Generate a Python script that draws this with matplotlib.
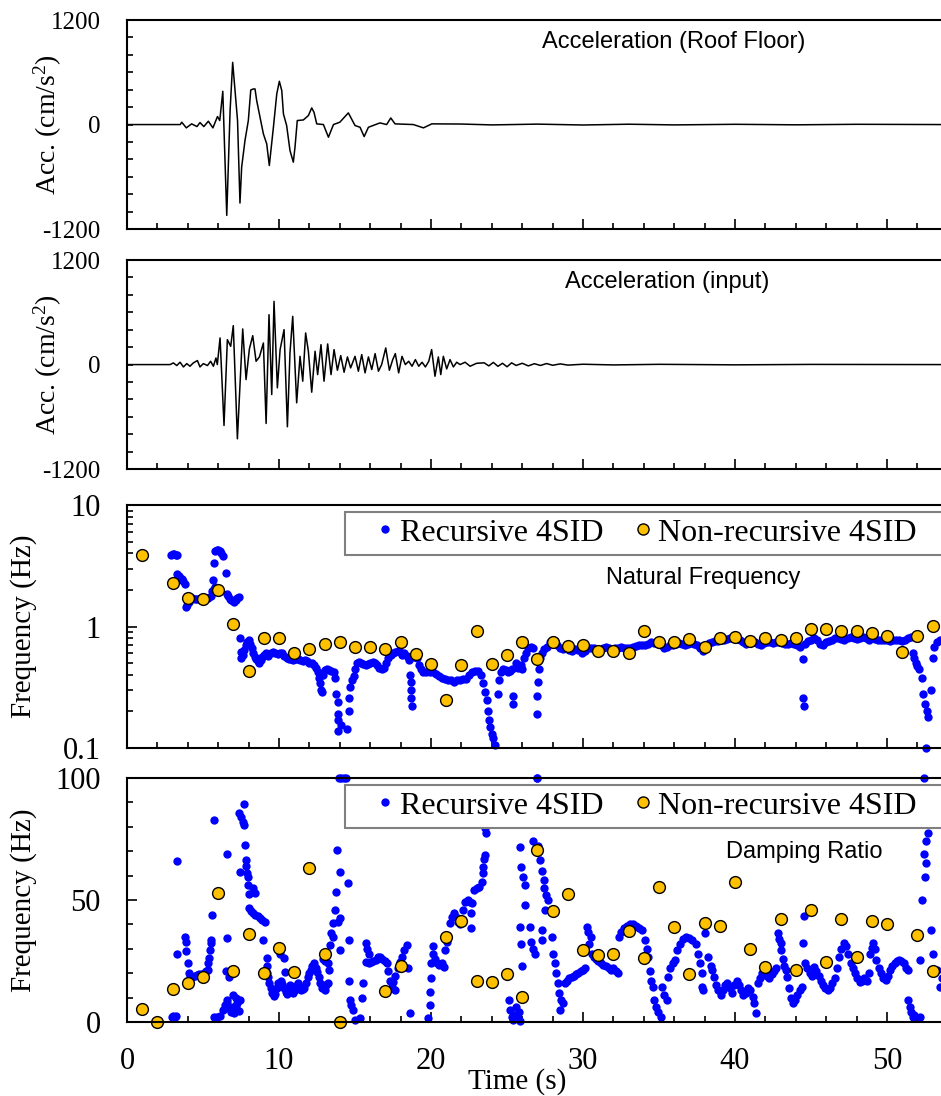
import numpy as np
import matplotlib
matplotlib.use('Agg')
import matplotlib.pyplot as plt
from matplotlib.ticker import MultipleLocator, LogLocator, NullFormatter
from matplotlib.lines import Line2D
from matplotlib.patches import Rectangle

plt.rcParams['font.family'] = ['Liberation Serif', 'DejaVu Serif']
plt.rcParams['mathtext.fontset'] = 'custom'
plt.rcParams['mathtext.rm'] = 'Liberation Serif'
plt.rcParams['mathtext.it'] = 'Liberation Serif:italic'
plt.rcParams['axes.unicode_minus'] = False

roof_acc = np.array([
    (0, 0), (3.5, 0), (3.6, 27), (3.9, -38), (4.25, 8), (4.6, -23), (4.8, 23), (5.05, -23),
    (5.35, 38), (5.65, -38), (5.95, 92), (6.1, 46), (6.3, 382), (6.56, -1043), (6.78, 160),
    (6.95, 714), (7.27, 46), (7.43, -901), (7.54, -490), (7.76, -183), (7.98, 46), (8.14, 397),
    (8.31, 409), (8.42, 409), (8.53, 275), (8.75, 84), (8.97, -107), (9.19, -222), (9.36, -470),
    (9.63, -31), (9.85, 351), (10.02, 497), (10.18, 390), (10.29, 122), (10.5, -11),
    (10.72, -298), (10.94, -432), (11.05, -260), (11.2, 46), (11.6, 53), (11.93, 103),
    (12.15, 191), (12.3, 141), (12.48, 8), (12.92, 0), (13.25, -145), (13.58, 0), (14.0, 27),
    (14.56, 134), (15.0, -11), (15.33, -31), (15.6, -138), (15.88, -31), (16.64, 19),
    (17.08, 0), (17.35, 76), (17.63, 8), (18.84, 0), (19.5, -38), (20.05, 8), (22, 6), (24, -4),
    (27, 5), (30, -5), (33, 4), (36, -4), (40, 3), (44, -3), (48, 3), (53.6, 0),
])

# input (ground) acceleration
input_acc = np.array([
    (0, 0), (2.6, 0), (2.83, 0), (3.05, 19), (3.27, -11), (3.49, 27), (3.71, -27), (3.93, 11),
    (4.14, -19), (4.36, 19), (4.63, 46), (4.8, -27), (5.02, 11), (5.29, -11), (5.5, 38),
    (5.68, -19), (5.85, 76), (5.94, 0), (6.12, 306), (6.38, -699), (6.6, 286), (6.82, 210),
    (6.99, 447), (7.26, -852), (7.61, 409), (7.83, -172), (8.05, 180), (8.27, 332), (8.49, 38),
    (8.71, 88), (8.97, 248), (9.15, -676), (9.34, 573), (9.52, -344), (9.67, 726), (9.89, -267),
    (10.07, 172), (10.33, 401), (10.55, -714), (10.72, 134), (10.9, 554), (11.16, -439),
    (11.38, 95), (11.56, -191), (11.75, 363), (11.93, 153), (12.15, -317), (12.37, 153),
    (12.54, -115), (12.76, 229), (12.96, -191), (13.2, 237), (13.42, -115), (13.62, 172),
    (13.84, -65), (14.06, 103), (14.28, -88), (14.5, 88), (14.71, -38), (15.0, 95), (15.22, -76),
    (15.44, 115), (15.66, -95), (15.88, 88), (16.1, -57), (16.32, 126), (16.54, -76), (16.75, 0),
    (17.02, 191), (17.26, -65), (17.48, 57), (17.65, 126), (17.87, -95), (18.09, 95), (18.31, 0),
    (18.53, 38), (18.75, -19), (18.97, 57), (19.19, -19), (19.41, 27), (19.63, -27), (19.85, 38),
    (20.04, 172), (20.26, -134), (20.48, 88), (20.64, -115), (20.81, 95), (21.03, -50),
    (21.25, 57), (21.47, -27), (21.69, 27), (21.91, 0), (22.24, 27), (22.57, -19), (23.0, 15),
    (23.5, 20), (23.8, -15), (24.1, 25), (24.4, -20), (24.7, 15), (25.0, -25), (25.3, 20),
    (25.6, -10), (26.0, 15), (26.4, -15), (26.8, 10), (27.2, -10), (27.6, 12), (28.0, -8),
    (28.5, 8), (29.0, -6), (30, 4), (32, -4), (35, 3), (40, -3), (45, 2), (53.6, 0),
])

# natural frequency, recursive 4SID (time s, Hz)
rec_freq = np.array([
    (2.9, 3.9), (3.0, 3.95), (3.1, 3.95), (3.2, 3.9), (3.3, 3.9),
    (3.3, 2.7), (3.4, 2.6), (3.5, 2.5), (3.6, 2.45), (3.7, 2.35), (3.8, 2.25),
    (3.85, 1.45), (3.95, 1.5), (4.05, 1.6), (4.15, 1.7), (4.3, 1.72), (4.45, 1.7), (4.6, 1.7),
    (4.75, 1.68), (4.9, 1.7), (5.05, 1.7), (5.2, 1.72), (5.35, 1.72), (5.5, 1.8), (5.6, 1.95),
    (5.7, 2.05), (5.8, 2.1), (5.63, 2.42), (5.72, 3.36),
    (5.8, 4.2), (5.9, 4.3), (6.0, 4.3), (6.1, 4.2), (6.2, 4.0), (6.3, 3.8), (6.52, 2.78),
    (6.55, 1.85), (6.65, 1.8), (6.75, 1.7), (6.85, 1.65), (6.95, 1.62), (7.05, 1.6), (7.15, 1.65),
    (7.25, 1.72), (7.35, 1.75),
    (7.4, 0.8), (7.47, 0.62), (7.5, 0.55), (7.6, 0.58), (7.7, 0.64), (7.8, 0.7), (7.9, 0.75),
    (8.0, 0.78), (8.1, 0.72), (8.2, 0.66), (8.3, 0.6), (8.4, 0.56), (8.5, 0.54), (8.6, 0.52),
    (8.7, 0.5), (8.8, 0.53), (8.9, 0.56), (9.0, 0.58), (9.15, 0.6), (9.3, 0.57), (9.45, 0.6),
    (9.6, 0.62), (9.75, 0.6), (9.9, 0.59), (10.05, 0.61), (10.2, 0.6), (10.35, 0.57),
    (10.5, 0.55), (10.65, 0.54), (10.8, 0.54), (10.95, 0.53), (11.1, 0.54), (11.25, 0.54),
    (11.4, 0.53), (11.55, 0.52), (11.7, 0.53), (11.85, 0.52), (12.0, 0.5), (12.15, 0.5),
    (12.3, 0.48), (12.45, 0.46), (12.55, 0.42), (12.65, 0.38), (12.7, 0.34), (12.75, 0.3),
    (12.8, 0.29), (12.9, 0.4), (13.0, 0.44), (13.15, 0.45), (13.3, 0.44), (13.45, 0.43),
    (13.6, 0.42), (13.7, 0.38), (13.75, 0.28), (13.85, 0.24), (13.9, 0.19), (13.85, 0.17),
    (13.85, 0.137), (14.07, 0.155), (14.5, 0.143), (14.57, 0.2), (14.62, 0.26), (14.7, 0.32),
    (14.8, 0.36), (14.9, 0.39), (15.0, 0.45), (15.1, 0.5), (15.25, 0.51), (15.4, 0.5),
    (15.55, 0.49), (15.7, 0.48), (15.85, 0.49), (16.0, 0.5), (16.15, 0.51), (16.3, 0.5),
    (16.45, 0.48), (16.6, 0.46), (16.75, 0.45), (16.9, 0.46), (17.05, 0.5), (17.2, 0.55),
    (17.35, 0.58), (17.5, 0.6), (17.65, 0.62), (17.8, 0.63), (17.95, 0.62), (18.1, 0.58),
    (18.25, 0.6), (18.4, 0.57), (18.55, 0.53), (18.6, 0.4), (18.65, 0.35), (18.7, 0.3),
    (18.7, 0.26), (18.75, 0.22), (18.85, 0.56), (19.0, 0.58), (19.1, 0.55), (19.2, 0.48),
    (19.35, 0.45), (19.5, 0.42), (19.7, 0.42), (19.9, 0.42), (20.1, 0.42), (20.3, 0.41),
    (20.5, 0.39), (20.7, 0.38), (20.9, 0.37), (21.1, 0.36), (21.3, 0.36), (21.5, 0.35),
    (21.7, 0.36), (21.9, 0.36), (22.1, 0.37), (22.3, 0.37), (22.5, 0.4), (22.7, 0.42),
    (22.9, 0.43), (23.1, 0.43), (23.3, 0.4), (23.45, 0.34), (23.55, 0.29), (23.65, 0.25),
    (23.75, 0.2), (23.8, 0.17), (23.9, 0.15), (24.0, 0.13), (24.1, 0.12), (24.2, 0.105),
    (24.4, 0.28), (24.5, 0.36), (24.6, 0.42), (24.75, 0.45), (24.9, 0.44), (25.05, 0.42),
    (25.2, 0.43), (25.3, 0.45), (25.4, 0.27), (25.42, 0.23), (25.6, 0.5), (25.75, 0.46),
    (25.9, 0.48), (26.0, 0.45), (26.1, 0.55), (26.25, 0.6), (26.4, 0.66), (26.55, 0.68),
    (26.7, 0.66), (26.96, 0.27), (27.0, 0.19), (27.05, 0.35), (27.1, 0.45), (27.2, 0.55),
    (27.3, 0.6), (27.45, 0.65), (27.6, 0.68), (27.8, 0.74), (28.0, 0.78), (28.15, 0.76),
    (28.3, 0.7), (28.5, 0.66), (28.7, 0.65), (28.9, 0.66), (29.1, 0.64), (29.3, 0.63),
    (29.5, 0.65), (29.7, 0.64), (29.9, 0.6), (30.1, 0.63), (30.3, 0.66), (30.5, 0.67),
    (30.7, 0.66), (30.9, 0.65), (31.1, 0.64), (31.3, 0.66), (31.5, 0.68), (31.7, 0.67),
    (31.9, 0.65), (32.1, 0.66), (32.3, 0.67), (32.5, 0.68), (32.7, 0.66), (32.9, 0.66),
    (33.1, 0.67), (33.3, 0.68), (33.5, 0.69), (33.7, 0.7), (33.9, 0.7), (34.1, 0.71),
    (34.3, 0.72), (34.5, 0.75), (34.7, 0.73), (34.9, 0.72), (35.1, 0.7), (35.3, 0.67),
    (35.5, 0.68), (35.7, 0.7), (35.9, 0.71), (36.1, 0.72), (36.3, 0.73), (36.5, 0.72),
    (36.7, 0.71), (36.9, 0.72), (37.1, 0.73), (37.3, 0.72), (37.5, 0.7), (37.7, 0.67),
    (37.9, 0.63), (38.1, 0.68), (38.3, 0.73), (38.5, 0.75), (38.7, 0.76), (38.9, 0.76),
    (39.1, 0.77), (39.3, 0.78), (39.5, 0.79), (39.7, 0.8), (39.9, 0.8), (40.1, 0.79),
    (40.3, 0.77), (40.5, 0.74), (40.7, 0.72), (40.9, 0.73), (41.1, 0.75), (41.3, 0.74),
    (41.5, 0.72), (41.7, 0.71), (41.9, 0.73), (42.1, 0.75), (42.3, 0.74), (42.5, 0.73),
    (42.7, 0.74), (42.9, 0.74), (43.1, 0.73), (43.3, 0.72), (43.5, 0.72), (43.7, 0.73),
    (43.9, 0.72), (44.1, 0.7), (44.3, 0.68), (44.45, 0.54), (44.5, 0.26), (44.52, 0.22),
    (44.6, 0.72), (44.8, 0.76), (45.0, 0.78), (45.2, 0.8), (45.4, 0.77), (45.6, 0.72),
    (45.8, 0.7), (46.0, 0.74), (46.2, 0.76), (46.4, 0.78), (46.6, 0.8), (46.8, 0.8),
    (47.0, 0.79), (47.2, 0.78), (47.4, 0.8), (47.6, 0.82), (47.8, 0.81), (48.0, 0.79),
    (48.2, 0.8), (48.4, 0.82), (48.6, 0.8), (48.8, 0.78), (49.0, 0.8), (49.2, 0.79),
    (49.4, 0.78), (49.6, 0.77), (49.8, 0.78), (50.0, 0.77), (50.2, 0.76), (50.4, 0.77),
    (50.6, 0.78), (50.8, 0.77), (51.0, 0.76), (51.2, 0.77), (51.4, 0.8), (51.55, 0.82),
    (51.7, 0.6), (51.8, 0.55), (51.9, 0.5), (52.0, 0.47), (52.1, 0.45), (52.3, 0.38),
    (52.35, 0.28), (52.5, 0.23), (52.6, 0.2), (52.7, 0.18), (52.55, 0.1), (52.9, 0.3),
    (53.0, 0.55), (53.1, 0.68), (53.3, 0.74), (53.5, 0.78),
])

# natural frequency, non-recursive 4SID (one value per second)
nonrec_freq_t = [1, 3, 4, 5, 6, 7, 8, 9, 10, 11, 12, 13, 14, 15, 16, 17, 18, 19, 20, 21, 22,
                 23, 24, 25, 26, 27, 28, 29, 30, 31, 32, 33, 34, 35, 36, 37, 38, 39, 40, 41,
                 42, 43, 44, 45, 46, 47, 48, 49, 50, 51, 52, 53]
nonrec_freq = [3.88, 2.30, 1.71, 1.69, 1.99, 1.04, 0.427, 0.81, 0.81, 0.60, 0.65, 0.72, 0.74,
               0.68, 0.68, 0.65, 0.74, 0.59, 0.49, 0.247, 0.48, 0.92, 0.49, 0.58, 0.74, 0.54,
               0.74, 0.685, 0.70, 0.63, 0.63, 0.60, 0.92, 0.74, 0.74, 0.79, 0.68, 0.81, 0.82,
               0.76, 0.80, 0.77, 0.81, 0.96, 0.96, 0.92, 0.92, 0.88, 0.84, 0.62, 0.84, 1.01]

# damping ratio, recursive 4SID
rec_damp = np.array([
    (2.95, 2.2), (3.05, 2.5), (3.15, 2.2), (3.25, 2.5), (3.27, 66.1), (3.31, 27.9), (3.8, 35),
    (3.85, 33), (3.88, 29.2), (3.99, 24.3), (4.05, 20), (4.15, 18.6), (4.3, 18.5), (4.45, 18.8),
    (4.6, 19.2), (4.75, 19.5), (4.9, 19.8), (5.05, 20.2), (5.2, 20.8), (5.3, 21.3), (5.35, 24),
    (5.4, 26.1), (5.45, 29.5), (5.5, 32.3), (5.55, 33.6), (5.57, 43.9), (5.72, 82.8),
    (5.72, 2.2), (5.85, 1.5), (5.95, 2.2), (6.1, 2.5), (6.34, 5), (6.45, 7), (6.56, 9),
    (6.56, 68.7), (6.6, 34.3), (6.5, 21), (6.7, 18.6), (6.6, 7.6), (6.75, 5.5), (6.85, 4),
    (6.95, 6), (7.05, 3.6), (7.15, 6.5), (7.25, 8), (7.35, 4.5), (7.0, 11), (7.2, 10), (7.4, 9),
    (7.43, 61.6), (7.39, 85.5), (7.5, 84), (7.6, 82), (7.7, 89.2), (7.72, 80.7), (7.76, 72.5),
    (7.8, 66.4), (7.85, 64), (7.9, 61), (7.95, 59.6), (7.98, 56.1), (8.0, 52.3), (8.3, 54.8),
    (8.45, 52.7), (8.0, 46.6), (8.15, 45.5), (8.3, 44.5), (8.45, 44), (8.6, 43.5),
    (8.75, 42.5), (8.9, 42), (9.05, 41.1), (8.97, 33.6), (9.19, 26.1), (9.19, 23), (9.19, 20),
    (9.25, 18.6), (9.35, 16), (9.45, 14), (9.55, 12), (9.65, 10.5), (9.75, 11.5), (9.85, 14),
    (9.95, 16), (10.07, 28), (10.1, 17), (10.2, 15.5), (10.3, 26.1), (10.35, 14), (10.45, 12.5),
    (10.4, 20.6), (10.55, 11.5), (10.65, 13), (10.75, 15), (10.85, 14), (10.95, 12),
    (11.05, 13), (11.15, 15), (11.25, 16), (11.35, 14.5), (11.45, 13), (11.55, 13.5),
    (11.65, 14), (11.8, 16), (11.9, 18.6), (12.0, 20), (12.1, 21.5), (12.2, 23), (12.3, 24),
    (12.4, 22), (12.5, 20.5), (12.6, 18.6), (12.7, 16), (12.8, 14), (12.9, 15), (13.0, 13),
    (13.1, 15), (13.2, 16), (12.9, 26), (13.05, 25), (13.2, 24), (13.3, 21.3), (13.35, 31.6),
    (13.45, 36.4), (13.55, 35), (13.57, 40.4), (13.7, 45.9), (13.75, 53.4), (13.8, 70.5),
    (13.95, 100), (14.1, 100), (14.25, 100), (14.4, 100), (14.0, 61.6), (13.9, 41.1),
    (14.0, 42.5), (14.0, 29.5), (14.56, 56.8), (14.6, 33.6), (14.63, 17), (14.67, 9),
    (14.75, 7), (14.85, 5), (15.0, 0.8), (15.33, 1.8), (15.55, 16.1), (15.44, 9.7),
    (15.7, 32.2), (15.8, 30), (15.9, 28), (15.75, 24.7), (15.9, 24.3), (16.05, 24.5),
    (16.2, 25), (16.35, 25.5), (16.5, 26.5), (16.65, 26.8), (16.8, 26), (16.95, 25),
    (17.1, 24), (17.2, 21), (17.3, 17), (17.45, 14.5), (17.6, 13), (17.5, 16.5), (17.65, 19),
    (17.8, 22), (17.95, 24.5), (18.1, 26.5), (18.25, 29.5), (18.4, 31.6), (18.5, 22),
    (18.6, 3.8), (19.8, 1.5), (19.9, 7), (19.93, 12.4), (19.98, 17.9), (20.0, 24), (20.1, 28),
    (20.15, 31.1), (20.25, 26), (20.4, 24), (20.55, 23.5), (20.7, 24), (20.85, 22.7),
    (20.95, 29.5), (21.05, 33), (21.1, 35), (21.25, 40.4), (21.4, 43), (21.5, 44.5),
    (21.65, 43), (21.8, 41), (21.9, 40), (22.1, 46), (22.25, 49), (22.4, 50), (22.55, 49),
    (22.6, 44.5), (22.6, 38.4), (22.7, 48.6), (22.85, 54.1), (23.0, 55), (23.15, 55.5),
    (23.33, 57.5), (23.4, 61), (23.44, 63.7), (23.5, 67), (23.52, 68.5), (23.55, 79.4),
    (23.6, 77.3),
    (25.1, 9), (25.2, 5), (25.3, 2), (25.4, 1), (25.5, 3), (25.6, 6), (25.7, 1.5), (25.8, 4),
    (25.85, 0.5), (25.96, 23), (25.86, 71.9), (25.95, 63.7), (26.05, 59.6), (26.15, 56.1),
    (25.86, 39), (25.9, 32), (26.2, 48), (26.5, 39), (26.6, 33), (26.7, 30), (26.85, 28),
    (26.74, 74), (26.95, 100), (27.0, 100), (27.06, 72), (27.2, 66.4), (27.3, 62), (27.4, 58.2),
    (27.45, 54.8), (27.55, 52), (27.7, 50), (27.5, 45.9), (27.28, 37.7), (27.3, 33.6),
    (27.94, 35), (28.05, 28), (28.15, 24), (28.25, 20), (28.35, 16), (28.45, 12), (28.55, 9),
    (28.65, 7.6), (28.5, 5), (28.8, 16), (28.95, 17), (29.1, 18), (29.25, 18.5), (29.4, 19),
    (29.55, 19.5), (29.7, 20), (29.85, 21), (30.0, 21.5), (30.15, 22), (30.25, 39),
    (30.35, 37), (30.5, 35), (30.4, 32), (30.6, 28), (30.7, 26.8), (30.85, 26), (31.0, 25),
    (31.15, 24), (31.3, 23.5), (31.5, 23), (31.7, 22), (31.85, 21.3), (32.0, 22), (32.15, 21),
    (32.3, 20), (32.35, 35), (32.5, 37), (32.7, 38.5), (32.9, 39.5), (33.1, 40), (33.3, 40),
    (33.5, 39.5), (33.7, 38.5), (33.9, 37.7), (34.1, 33.6), (34.2, 30), (34.3, 26.8),
    (34.4, 21), (34.5, 17), (34.6, 14.5), (34.7, 9), (34.8, 6), (34.95, 4), (35.1, 2.2),
    (35.2, 14.5), (35.35, 11), (35.5, 9), (35.6, 18.6), (35.75, 22), (35.9, 24), (36.05, 25.4),
    (36.2, 29.5), (36.4, 32), (36.6, 34), (36.8, 35), (37.0, 34.5), (37.2, 33.5), (37.4, 32),
    (37.55, 28), (37.7, 24), (37.8, 20), (37.85, 14.5), (37.9, 13), (38.0, 36.3),
    (38.25, 26.8), (38.4, 23), (38.5, 21.3), (38.6, 18.6), (38.75, 15), (38.9, 13),
    (39.05, 11), (39.2, 13), (39.35, 15), (39.5, 16), (39.65, 14), (39.8, 12), (39.95, 15),
    (40.1, 17), (40.25, 15), (40.4, 13), (40.55, 11), (40.7, 12), (40.85, 14), (41.0, 13),
    (41.15, 10.4), (41.25, 7.6), (41.35, 3.6), (41.5, 16), (41.65, 18), (41.8, 20),
    (41.95, 21), (42.1, 19), (42.25, 18), (42.4, 19.5), (42.55, 21), (42.7, 22), (42.8, 36.4),
    (42.9, 34), (43.0, 32.2), (43.05, 29.5), (43.15, 26), (43.25, 23), (43.35, 21.3),
    (43.45, 18.6), (43.55, 14), (43.65, 10), (43.8, 7.6), (43.95, 9), (44.1, 11), (44.25, 13),
    (44.4, 14.5), (44.5, 32.2), (44.55, 43.6), (44.6, 24), (44.75, 22), (44.9, 20),
    (45.05, 19), (45.2, 22.7), (45.35, 21), (45.5, 19), (45.65, 17), (45.8, 15), (45.95, 14),
    (46.1, 13.1), (46.25, 14), (46.4, 16), (46.55, 18), (46.7, 22), (46.85, 26.8), (47.0, 30),
    (47.15, 32.2), (47.3, 31), (47.45, 28), (47.6, 24), (47.75, 22), (47.9, 20), (48.05, 18),
    (48.2, 16.5), (48.35, 17), (48.5, 18), (48.65, 17), (48.8, 20), (48.9, 28), (49.0, 30.5),
    (49.1, 32.2), (49.2, 30), (49.3, 25.4), (49.45, 22), (49.6, 20), (49.75, 18), (49.9, 17.2),
    (50.05, 19), (50.2, 21.3), (50.35, 23), (50.5, 24), (50.65, 25), (50.8, 25.4), (50.95, 25),
    (51.1, 24), (51.25, 22), (51.35, 21.3), (51.4, 9), (51.5, 6), (51.6, 4), (51.7, 2.2),
    (51.8, 3), (52.2, 2.2), (52.2, 25.4), (52.3, 50), (52.4, 69), (52.55, 74), (52.7, 77.3),
    (52.5, 59.6), (52.55, 65), (52.4, 100), (52.9, 37.7), (53.0, 28), (53.3, 21.3),
    (53.5, 14.5), (53.6, 18),
])

# damping ratio, non-recursive 4SID
nonrec_damp_t = [1, 2, 3, 4, 5, 6, 7, 8, 9, 10, 11, 12, 13, 14, 17, 18, 21, 22, 23, 24, 25, 26,
                 27, 28, 29, 30, 31, 32, 33, 34, 35, 36, 37, 38, 39, 40, 41, 42, 43, 44, 45,
                 46, 47, 48, 49, 50, 52, 53]
nonrec_damp = [5.2, 0.1, 13.5, 15.9, 18.6, 53.0, 20.9, 35.9, 20.0, 30.5, 20.5, 63.0, 27.9, 0.1,
               12.7, 23.0, 35.0, 41.4, 16.8, 16.4, 19.5, 10.4, 70.5, 45.5, 52.3, 29.5, 27.5,
               27.9, 37.3, 26.1, 55.5, 38.8, 19.7, 40.7, 39.4, 57.2, 29.8, 22.7, 42.2, 21.4,
               45.9, 24.7, 42.2, 26.8, 41.4, 40.2, 35.7, 21.0]

BLUE = '#0000ff'
GOLD = '#ffc000'
T_MAX = 53.55

fig = plt.figure(figsize=(9.41, 10.96), dpi=100)
L, W = 0.135, 0.865
ax1 = fig.add_axes([L, 0.791, W, 0.1907])
ax2 = fig.add_axes([L, 0.572, W, 0.1907])
ax3 = fig.add_axes([L, 0.3175, W, 0.2217])
ax4 = fig.add_axes([L, 0.0675, W, 0.2226])
axes = [ax1, ax2, ax3, ax4]

ax1.plot(roof_acc[:, 0], roof_acc[:, 1], color='black', lw=1.1)
ax2.plot(input_acc[:, 0], input_acc[:, 1], color='black', lw=1.1)

ax3.plot(rec_freq[:, 0], rec_freq[:, 1], 'o', color=BLUE, ms=6, mew=0, clip_on=False)
ax3.plot(nonrec_freq_t, nonrec_freq, 'o', mfc=GOLD, mec='black', ms=8.5, mew=1, clip_on=False)
ax4.plot(rec_damp[:, 0], rec_damp[:, 1], 'o', color=BLUE, ms=6, mew=0, clip_on=False)
ax4.plot(nonrec_damp_t, nonrec_damp, 'o', mfc=GOLD, mec='black', ms=8.5, mew=1, clip_on=False)

for ax in axes:
    ax.set_xlim(0, T_MAX)
    ax.spines['right'].set_visible(False)
    for s in ['left', 'top', 'bottom']:
        ax.spines[s].set_linewidth(1.5)
    ax.xaxis.set_major_locator(MultipleLocator(10))
    ax.xaxis.set_minor_locator(MultipleLocator(2))
    ax.tick_params(axis='both', which='both', direction='in', right=False, top=False,
                   width=1.2)
    ax.tick_params(axis='x', which='major', length=7, pad=18, labelsize=22)
    ax.tick_params(axis='x', which='minor', length=4)
    ax.tick_params(axis='y', which='both', length=4, pad=19)
    if ax is not ax4:
        ax.tick_params(axis='x', labelbottom=False)

for ax in (ax1, ax2):
    ax.set_ylim(-1200, 1200)
    ax.set_yticks([-1200, 0, 1200], ['-1200', '0', '1200'])
    ax.yaxis.set_minor_locator(MultipleLocator(200))
    ax.tick_params(axis='y', labelsize=18)
    ax.set_ylabel('Acc. (cm/s$^2$)', fontsize=20)
    ax.yaxis.set_label_coords(-0.078, 0.5)

ax3.set_yscale('log')
ax3.set_ylim(0.1, 10)
ax3.set_yticks([0.1, 1, 10], ['0.1', '1', '10'])
ax3.yaxis.set_minor_locator(LogLocator(base=10, subs=np.arange(2, 10)))
ax3.yaxis.set_minor_formatter(NullFormatter())
ax3.tick_params(axis='y', which='major', length=7)

ax4.set_ylim(0, 100)
ax4.set_yticks([0, 50, 100], ['0', '50', '100'])
ax4.yaxis.set_minor_locator(MultipleLocator(10))
ax4.tick_params(axis='y', which='major', length=7)
ax4.set_xticks([0, 10, 20, 30, 40, 50], ['0', '10', '20', '30', '40', '50'])

for ax in (ax3, ax4):
    ax.tick_params(axis='y', labelsize=22)
    ax.set_ylabel('Frequency (Hz)', fontsize=21)
    ax.yaxis.set_label_coords(-0.11, 0.5)

ax4.text(0.479, -0.19, 'Time (s)', transform=ax4.transAxes, ha='center', va='top',
         fontsize=21)

sans = ['Liberation Sans', 'DejaVu Sans']
ax1.text(0.672, 0.895, 'Acceleration (Roof Floor)', transform=ax1.transAxes,
         ha='center', va='center', fontsize=17, family=sans)
ax2.text(0.663, 0.895, 'Acceleration (input)', transform=ax2.transAxes,
         ha='center', va='center', fontsize=17, family=sans)
ax3.text(0.708, 0.70, 'Natural Frequency', transform=ax3.transAxes,
         ha='center', va='center', fontsize=17, family=sans)
ax4.text(0.832, 0.697, 'Damping Ratio', transform=ax4.transAxes,
         ha='center', va='center', fontsize=17, family=sans)

handles = [
    Line2D([], [], ls='none', marker='o', color=BLUE, ms=6, mew=0),
    Line2D([], [], ls='none', marker='o', mfc=GOLD, mec='black', ms=8, mew=1),
]
labels = ['Recursive 4SID', 'Non-recursive 4SID']
for ax in (ax3, ax4):
    # legend box runs off the right edge of the figure
    ax.add_patch(Rectangle((0.268, 0.795), 0.8, 0.176, transform=ax.transAxes,
                           facecolor='white', edgecolor='#808080', lw=1.5,
                           clip_on=False, zorder=4))
    leg = ax.legend(handles, labels, loc='upper left', bbox_to_anchor=(0.297, 0.972),
                    borderaxespad=0, ncol=2, fontsize=23, handlelength=0.6,
                    handletextpad=0.17, columnspacing=0.95, borderpad=0.2,
                    frameon=False)
    leg.set_zorder(5)

fig.savefig('out.png', dpi=100)
